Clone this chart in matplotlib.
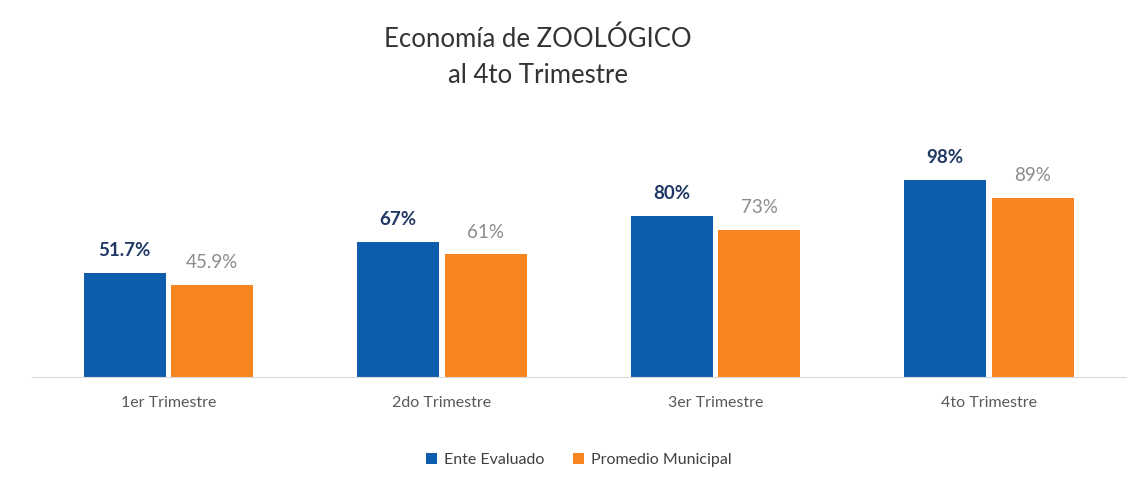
import numpy as np
import matplotlib
matplotlib.use("Agg")
import matplotlib.pyplot as plt

categories = ["1er Trimestre", "2do Trimestre", "3er Trimestre", "4to Trimestre"]
ente = [51.7, 67, 80, 98]
promedio = [45.9, 61, 73, 89]
ente_labels = ["51.7%", "67%", "80%", "98%"]
prom_labels = ["45.9%", "61%", "73%", "89%"]

BLUE = "#0E5DAD"
ORANGE = "#F7841F"

plt.rcParams["font.family"] = ["Lato", "DejaVu Sans"]
fig = plt.figure(figsize=(11.37, 4.91), dpi=100)
ax = fig.add_axes([0.028, 0.2322, 0.962, 0.491])

x = np.arange(len(categories))
w = 0.30
off = 0.16
ax.bar(x - off, ente, w, color=BLUE, label="Ente Evaluado")
ax.bar(x + off, promedio, w, color=ORANGE, label="Promedio Municipal")

for xi, v, t in zip(x, ente, ente_labels):
    ax.annotate(t, (xi - off, v), xytext=(0, 10), textcoords="offset points",
                ha="center", va="bottom", fontsize=13.5, fontweight="bold", color="#1F3864")
for xi, v, t in zip(x, promedio, prom_labels):
    ax.annotate(t, (xi + off, v), xytext=(0, 10), textcoords="offset points",
                ha="center", va="bottom", fontsize=13.5, color="#8C8C8C")

ax.set_xlim(-0.5, len(categories) - 0.5)
ax.set_ylim(0, 120)
ax.set_xticks(x)
ax.set_xticklabels(categories, fontsize=11.5, color="#595959")
ax.tick_params(axis="x", length=0, pad=14)
ax.set_yticks([])
for s in ["top", "right", "left"]:
    ax.spines[s].set_visible(False)
ax.spines["bottom"].set_color("#D9D9D9")

fig.text(0.473, 0.884, "Economía de ZOOLÓGICO\nal 4to Trimestre", ha="center", va="center",
         fontsize=18.5, color="#333333", linespacing=1.55)

ax.legend(loc="center", bbox_to_anchor=(0.5, -0.345), ncol=2, frameon=False,
          fontsize=11.5, handlelength=0.7, handleheight=0.7, handletextpad=0.4,
          columnspacing=1.8, labelcolor="#404040")

fig.savefig("out.png", dpi=100, facecolor="white")
